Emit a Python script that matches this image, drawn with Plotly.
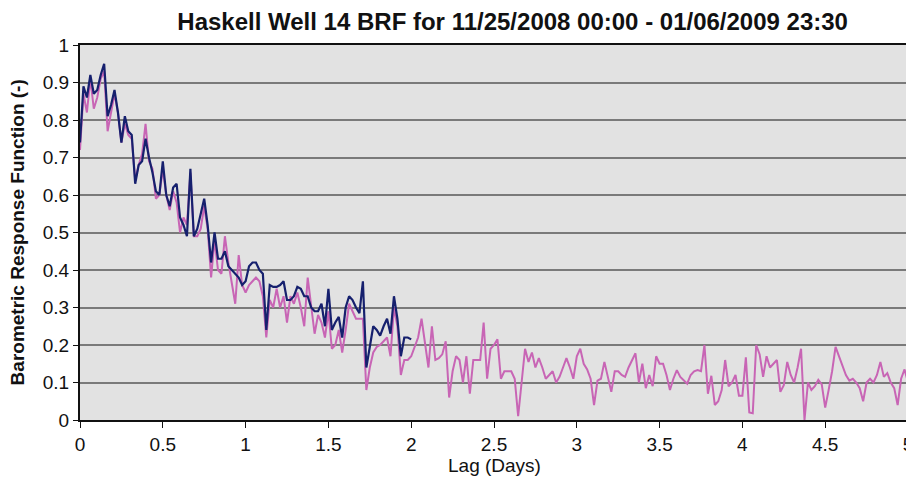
import plotly.graph_objects as go

step = 1 / 48  # 30-minute lag step in days

navy_brf = [
    0.74, 0.89, 0.86, 0.92, 0.87, 0.88, 0.92, 0.95, 0.81, 0.84,
    0.88, 0.82, 0.74, 0.81, 0.77, 0.76, 0.63, 0.68, 0.69, 0.75,
    0.70, 0.66, 0.61, 0.60, 0.69, 0.60, 0.57, 0.62, 0.63, 0.54,
    0.52, 0.49, 0.67, 0.49, 0.51, 0.55, 0.59, 0.52, 0.42, 0.50,
    0.43, 0.43, 0.45, 0.41, 0.40, 0.39, 0.38, 0.36, 0.37, 0.41,
    0.42, 0.42, 0.40, 0.39, 0.24, 0.36, 0.355, 0.355, 0.36, 0.37,
    0.32, 0.32, 0.33, 0.355, 0.35, 0.33, 0.33, 0.30, 0.29, 0.29,
    0.31, 0.25, 0.35, 0.24, 0.26, 0.275, 0.22, 0.30, 0.33, 0.32,
    0.30, 0.285, 0.37, 0.14, 0.19, 0.25, 0.24, 0.225, 0.25, 0.27,
    0.23, 0.33, 0.27, 0.17, 0.22, 0.22, 0.215,
]

pink_brf = [
    0.72, 0.87, 0.82, 0.91, 0.83, 0.86, 0.91, 0.93, 0.77, 0.82,
    0.87, 0.82, 0.74, 0.79, 0.76, 0.75, 0.64, 0.68, 0.71, 0.79,
    0.69, 0.67, 0.59, 0.60, 0.67, 0.60, 0.56, 0.61, 0.58, 0.50,
    0.54, 0.52, 0.66, 0.49, 0.49, 0.51, 0.57, 0.51, 0.38, 0.48,
    0.40, 0.39, 0.49, 0.42, 0.36, 0.31, 0.44, 0.36, 0.34, 0.36,
    0.37, 0.38, 0.37, 0.33, 0.22, 0.32, 0.30, 0.35, 0.30, 0.33,
    0.26, 0.33, 0.31, 0.34, 0.30, 0.25, 0.38, 0.31, 0.23, 0.28,
    0.26, 0.22, 0.29, 0.19, 0.20, 0.24, 0.18, 0.24, 0.31, 0.29,
    0.27, 0.27, 0.27, 0.08, 0.14, 0.18, 0.195, 0.20, 0.21, 0.22,
    0.17, 0.30, 0.25, 0.12, 0.16, 0.16, 0.17, 0.195, 0.22, 0.27,
    0.20, 0.14, 0.25, 0.16, 0.165, 0.175, 0.21, 0.06, 0.13, 0.17,
    0.16, 0.10, 0.17, 0.07, 0.16, 0.16, 0.16, 0.26, 0.11, 0.19,
    0.20, 0.215, 0.11, 0.13, 0.13, 0.13, 0.11, 0.01, 0.10, 0.19,
    0.155, 0.18, 0.14, 0.165, 0.14, 0.11, 0.12, 0.13, 0.10, 0.115,
    0.14, 0.165, 0.14, 0.11, 0.17, 0.19, 0.15, 0.135, 0.11, 0.04,
    0.105, 0.11, 0.155, 0.11, 0.075, 0.13, 0.13, 0.12, 0.115, 0.14,
    0.16, 0.178, 0.10, 0.15, 0.085, 0.12, 0.09, 0.17, 0.15, 0.15,
    0.12, 0.08, 0.11, 0.133, 0.115, 0.105, 0.097, 0.12, 0.13, 0.133,
    0.13, 0.20, 0.07, 0.118, 0.04, 0.05, 0.08, 0.16, 0.09, 0.10,
    0.12, 0.065, 0.065, 0.167, 0.02, 0.018, 0.20, 0.175, 0.115, 0.17,
    0.14, 0.15, 0.16, 0.075, 0.093, 0.155, 0.12, 0.10, 0.14, 0.19,
    0.0, 0.10, 0.08, 0.09, 0.107, 0.095, 0.033, 0.08, 0.13, 0.195,
    0.17, 0.15, 0.12, 0.105, 0.11, 0.10, 0.085, 0.05, 0.10, 0.11,
    0.10, 0.12, 0.155, 0.115, 0.125, 0.10, 0.085, 0.04, 0.11, 0.135,
    0.10,
]

x_ticks = [0, 0.5, 1, 1.5, 2, 2.5, 3, 3.5, 4, 4.5, 5]
x_tick_labels = ["0", "0.5", "1", "1.5", "2", "2.5", "3", "3.5", "4", "4.5", "5"]
y_ticks = [0, 0.1, 0.2, 0.3, 0.4, 0.5, 0.6, 0.7, 0.8, 0.9, 1]
y_tick_labels = ["0", "0.1", "0.2", "0.3", "0.4", "0.5", "0.6", "0.7", "0.8", "0.9", "1"]

navy_lag = [i * step for i in range(len(navy_brf))]
pink_lag = [i * step for i in range(len(pink_brf))]

FONT = "Liberation Sans, Arial, sans-serif"

fig = go.Figure()
fig.add_trace(go.Scatter(x=pink_lag, y=pink_brf, mode="lines",
                         line=dict(color="#c865b5", width=2), showlegend=False))
fig.add_trace(go.Scatter(x=navy_lag, y=navy_brf, mode="lines",
                         line=dict(color="#16206e", width=2.2), showlegend=False))

# The page body has an 8px default margin, so the figure is sized to fit the window.
fig.update_layout(
    width=906, height=469,
    margin=dict(l=72, r=6, t=37, b=57),
    paper_bgcolor="white",
    plot_bgcolor="#e2e2e2",
    title=dict(text="<b>Haskell Well 14 BRF for 11/25/2008 00:00 - 01/06/2009 23:30</b>",
               x=0.557, xanchor="center", y=0.972, yanchor="middle",
               font=dict(family=FONT, size=24, color="#111")),
    font=dict(family=FONT, color="#111"),
    annotations=[
        dict(text="<b>Barometric Response Function (-)</b>", textangle=-90,
             xref="paper", yref="paper", x=-0.075, y=0.5,
             xanchor="center", yanchor="middle", showarrow=False,
             font=dict(family=FONT, size=19, color="#111")),
        dict(text="Lag (Days)",
             xref="paper", yref="paper", x=0.5, y=-0.12,
             xanchor="center", yanchor="middle", showarrow=False,
             font=dict(family=FONT, size=19, color="#111")),
    ],
)
fig.update_xaxes(range=[0, 5], tickvals=x_ticks, ticktext=x_tick_labels,
                 showgrid=False, zeroline=False, automargin=False,
                 showline=True, linecolor="#111", linewidth=2, mirror=True,
                 ticks="outside", ticklen=6, tickcolor="#111",
                 tickfont=dict(size=19))
fig.update_yaxes(range=[0, 1], tickvals=y_ticks, ticktext=y_tick_labels,
                 showgrid=True, gridcolor="#7a7a7a", gridwidth=1.5, zeroline=False,
                 automargin=False,
                 showline=True, linecolor="#111", linewidth=2, mirror=True,
                 ticks="outside", ticklen=5, tickcolor="#111",
                 tickfont=dict(size=19))

fig.write_html("out.html")
